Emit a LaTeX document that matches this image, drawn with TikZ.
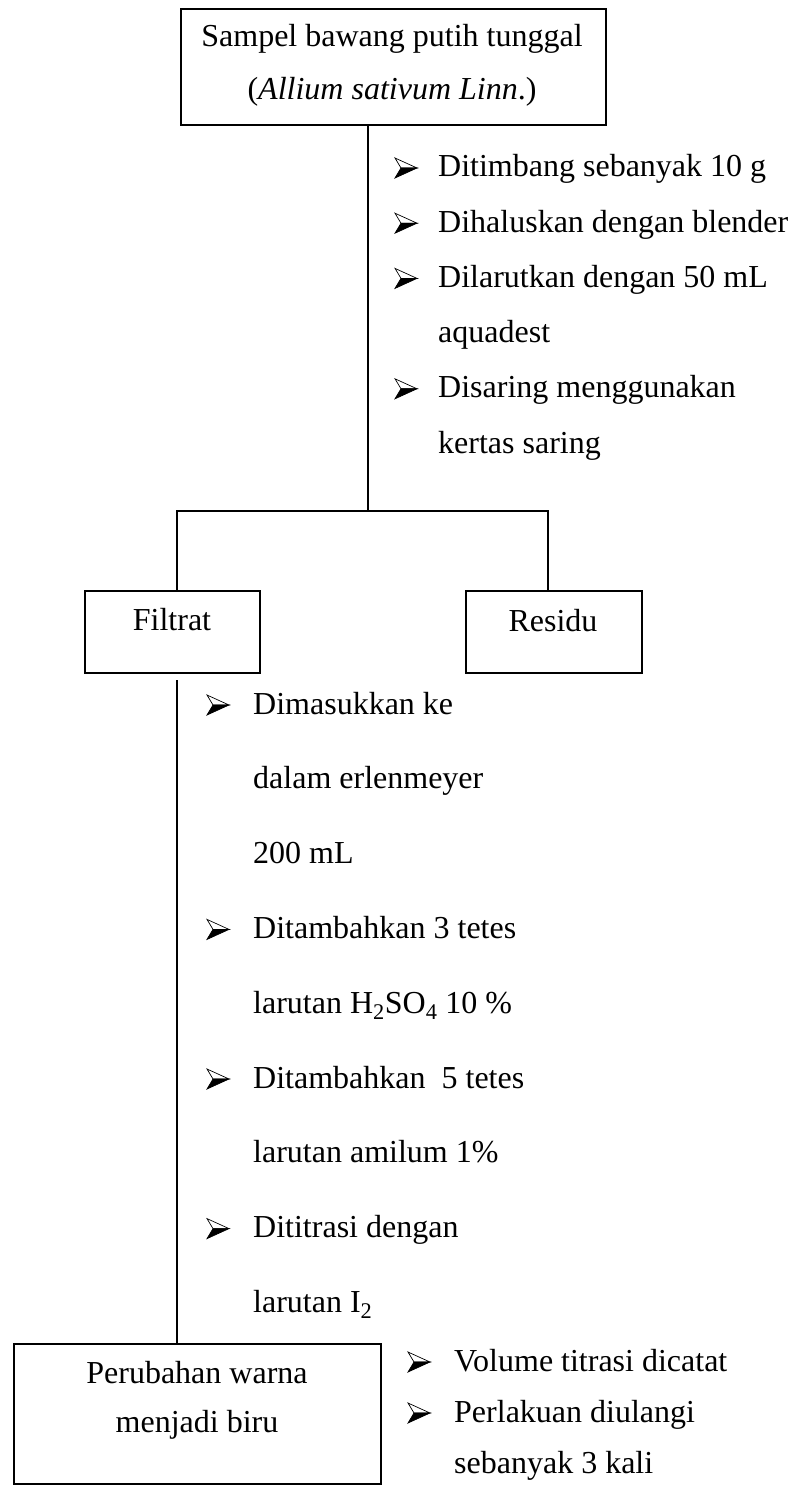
\documentclass[tikz,border=0pt]{standalone}
\usepackage{fontspec}
\setmainfont{Liberation Serif}
\begin{document}
\begin{tikzpicture}[x=1pt,y=-1pt,
  box/.style={draw,line width=1.8pt,inner sep=0pt,anchor=north west},
  txt/.style={inner sep=0pt,font=\fontsize{32}{38}\selectfont},
  lt/.style={txt,anchor=base west},
  ct/.style={txt,anchor=base},
  conn/.style={line width=1.8pt},
  bul/.pic={
    \filldraw[fill=white,line width=0.7pt,line join=miter] (0,-19) -- (22,-9) -- (6,-9) -- cycle;
    \filldraw[fill=black,line width=0.7pt,line join=miter] (6,-9) -- (22,-9) -- (0,1) -- cycle;
  }]
\useasboundingbox[fill=white] (0,0) rectangle (792,1490);
% boxes
\node[box,minimum width=425,minimum height=116] (top) at (180,8) {};
\node[box,minimum width=175,minimum height=82] (fil) at (84,590) {};
\node[box,minimum width=176,minimum height=82] (res) at (465,590) {};
\node[box,minimum width=367,minimum height=140] (end) at (13,1343) {};
% box texts
\node[ct] (t1) at (392,47) {Sampel bawang putih tunggal};
\node[ct] (t2) at (392,100) {(\textit{Allium sativum Linn}.)};
\node[ct] (ft) at (172,630) {Filtrat};
\node[ct] (rt) at (553,631) {Residu};
\node[ct] (e1) at (197,1383) {Perubahan warna};
\node[ct] (e2) at (197,1432) {menjadi biru};
% connectors
\coordinate (sp) at (368,511);
\coordinate (fl) at (177,511);
\coordinate (rl) at (548,511);
\coordinate (f0) at (177,680);
\draw[conn] (top.south -| sp) -- (sp);
\draw[conn] (fil.north -| fl) -- (fl) -- (rl) -- (res.north -| rl);
\draw[conn] (f0) -- (end.north -| f0);
% group 1
\pic at (395,177) {bul};
\node[lt] (g11) at (438,177) {Ditimbang sebanyak 10 g};
\pic at (395,232.2) {bul};
\node[lt] (g12) at (438,232.2) {Dihaluskan dengan blender};
\pic at (395,287.4) {bul};
\node[lt] (g13) at (438,287.4) {Dilarutkan dengan 50 mL};
\node[lt] (g14) at (438,342.6) {aquadest};
\pic at (395,397.8) {bul};
\node[lt] (g15) at (438,397.8) {Disaring menggunakan};
\node[lt] (g16) at (438,453) {kertas saring};
% group 2
\pic at (207,714) {bul};
\node[lt] (g21) at (253,714) {Dimasukkan ke};
\node[lt] (g22) at (253,788.8) {dalam erlenmeyer};
\node[lt] (g23) at (253,863.6) {200 mL};
\pic at (207,938.4) {bul};
\node[lt] (g24) at (253,938.4) {Ditambahkan 3 tetes};
\node[lt] (g25) at (253,1013.2) {larutan H\textsubscript{2}SO\textsubscript{4} 10 \%};
\pic at (207,1088) {bul};
\node[lt] (g26) at (253,1088) {Ditambahkan\ \ 5 tetes};
\node[lt] (g27) at (253,1162.8) {larutan amilum 1\%};
\pic at (207,1237.6) {bul};
\node[lt] (g28) at (253,1237.6) {Dititrasi dengan};
\node[lt] (g29) at (253,1312.4) {larutan I\textsubscript{2}};
% group 3
\pic at (408,1371) {bul};
\node[lt] (g31) at (454,1371) {Volume titrasi dicatat};
\pic at (408,1422) {bul};
\node[lt] (g32) at (454,1422) {Perlakuan diulangi};
\node[lt] (g33) at (454,1473) {sebanyak 3 kali};
\end{tikzpicture}
\end{document}
